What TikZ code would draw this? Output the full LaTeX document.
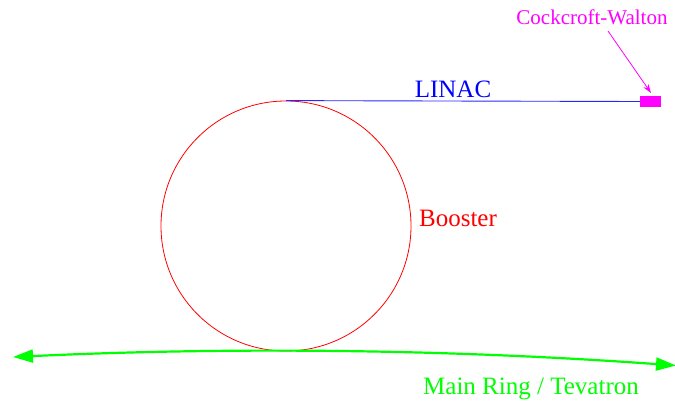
\documentclass[tikz,border=0pt]{standalone}
\usepackage{fontspec}
\setmainfont{Liberation Serif}
\usetikzlibrary{arrows.meta}
\definecolor{cwmag}{RGB}{255,0,255}
\definecolor{mrgreen}{RGB}{0,255,0}
\definecolor{linblue}{RGB}{40,40,255}
\tikzset{
  bigtxt/.style={font=\fontsize{25}{30}\selectfont, inner sep=0pt, anchor=base},
  smalltxt/.style={font=\fontsize{21}{25}\selectfont, inner sep=0pt, anchor=base},
}
\begin{document}
\begin{tikzpicture}[x=1pt,y=-1pt]
\useasboundingbox (0,0) rectangle (675,402);
% Booster ring
\node[draw=red, line width=0.8pt, circle, minimum size=250pt, inner sep=0pt] (ring) at (286,226) {};
\node[bigtxt, text=red] (boost) at (458,226) {Booster};
% Cockcroft-Walton box
\node[fill=cwmag, draw=none, minimum width=21pt, minimum height=11pt, inner sep=0pt] (cw) at (650.5,101.5) {};
\node[smalltxt, text=cwmag] (cwlab) at (592,24) {Cockcroft-Walton};
\coordinate (cwstart) at (608,31);
\coordinate (cwend) at (651,93);
\draw[cwmag, line width=0.8pt, -{Stealth[length=9pt,width=6pt]}] (cwstart) -- (cwend);
% LINAC
\draw[linblue, line width=0.9pt] (ring.north) -- (cw.west);
\node[bigtxt, text=blue] (linac) at (453,97) {LINAC};
% Main Ring / Tevatron
\coordinate (mrL) at (13,357);
\coordinate (mrR) at (676,365.5);
\draw[mrgreen, line width=2.2pt, {Triangle[length=20pt,width=13pt]}-{Triangle[length=20pt,width=13pt]}]
  (mrL) .. controls (235,346.6) and (455,349.5) .. (mrR);
\node[bigtxt, text=mrgreen] (mr) at (531,394) {Main Ring / Tevatron};
\end{tikzpicture}
\end{document}
